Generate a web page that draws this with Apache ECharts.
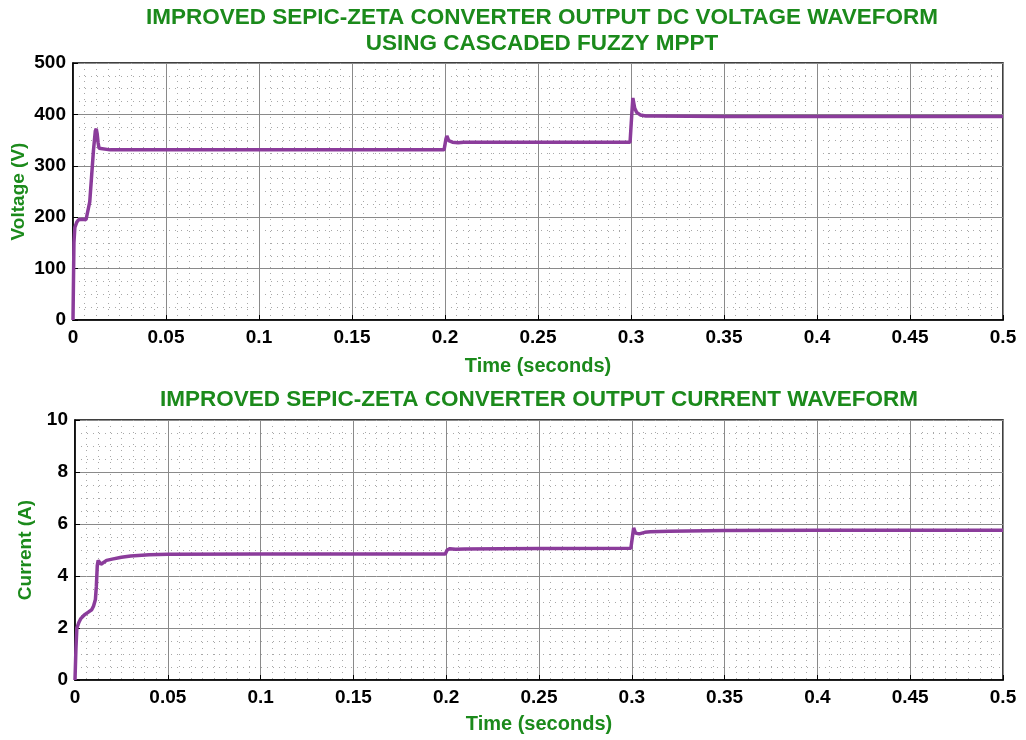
<!DOCTYPE html>
<html><head><meta charset="utf-8">
<script src="https://cdn.jsdelivr.net/npm/echarts@6/dist/echarts.min.js"></script>
<style>html,body{margin:0;padding:0;background:#fff}#c{width:1026px;height:740px}</style>
</head><body><div id="c"></div>
<script>
// Voltage waveform (time in s, voltage in V)
const vTime = [0, 0.0005, 0.001, 0.002, 0.003, 0.005, 0.007, 0.008, 0.009, 0.010, 0.011, 0.012, 0.0125, 0.013, 0.0135, 0.014, 0.015, 0.02, 0.05, 0.1, 0.15, 0.1995, 0.2, 0.2005, 0.201, 0.202, 0.204, 0.207, 0.21, 0.25, 0.2995, 0.3, 0.3005, 0.301, 0.302, 0.303, 0.305, 0.308, 0.312, 0.35, 0.4, 0.45, 0.5];
const vVals = [0, 150, 180, 190, 195, 196, 195, 198, 230, 280, 330, 368, 372, 362, 345, 334, 331, 331, 331, 331, 331, 331, 332, 352, 358, 349, 346, 345, 346, 346, 346, 346, 405, 432, 412, 404, 399, 397, 397, 396, 396, 396, 396];
// Current waveform (time in s, current in A)
const iTime = [0, 0.0005, 0.001, 0.002, 0.003, 0.005, 0.007, 0.009, 0.010, 0.011, 0.0115, 0.012, 0.0125, 0.013, 0.014, 0.015, 0.017, 0.02, 0.025, 0.03, 0.04, 0.05, 0.1, 0.15, 0.1995, 0.2, 0.2005, 0.201, 0.202, 0.205, 0.21, 0.25, 0.2995, 0.3, 0.3005, 0.301, 0.302, 0.304, 0.307, 0.31, 0.32, 0.35, 0.4, 0.45, 0.5];
const iVals = [0, 1.2, 2.0, 2.2, 2.35, 2.5, 2.6, 2.7, 2.85, 3.1, 3.6, 4.4, 4.6, 4.55, 4.45, 4.5, 4.6, 4.65, 4.72, 4.77, 4.82, 4.84, 4.85, 4.85, 4.85, 4.88, 5.0, 4.97, 5.05, 5.03, 5.04, 5.06, 5.07, 5.1, 5.6, 5.85, 5.65, 5.62, 5.68, 5.7, 5.72, 5.75, 5.76, 5.76, 5.76];
const xTicks = {min: 0, max: 0.5, interval: 0.05};

const green = '#1b8a1b';
const purple = '#8b3c9b';
const font = 'Liberation Sans';
const pair = (t, v) => t.map((x, k) => [x, v[k]]);

function xAxis(gi, gap) {
  return {
    type: 'value', gridIndex: gi, min: xTicks.min, max: xTicks.max, interval: xTicks.interval,
    name: 'Time (seconds)', nameLocation: 'middle', nameGap: gap,
    nameTextStyle: {color: green, fontWeight: 'bold', fontSize: 20, fontFamily: font},
    axisLine: {show: true, lineStyle: {color: '#000', width: 1.5}},
    axisTick: {show: true, inside: true, length: 5, lineStyle: {color: '#000'}},
    axisLabel: {color: '#000', fontWeight: 'bold', fontSize: 19, fontFamily: font, margin: 8,
      formatter: v => String(+v.toFixed(2))},
    splitLine: {show: true, lineStyle: {color: '#8a8a8a', width: 1}},
    minorTick: {show: false, splitNumber: 8},
    minorSplitLine: {show: true, lineStyle: {color: '#a8a8a8', type: [1, 5], width: 1}}
  };
}
function yAxis(gi, name, max, interval, gap) {
  return {
    type: 'value', gridIndex: gi, min: 0, max: max, interval: interval,
    name: name, nameLocation: 'middle', nameGap: gap, nameMoveOverlap: false,
    nameTextStyle: {color: green, fontWeight: 'bold', fontSize: 19, fontFamily: font},
    axisLine: {show: true, lineStyle: {color: '#000', width: 1.5}},
    axisTick: {show: true, inside: true, length: 5, lineStyle: {color: '#000'}},
    axisLabel: {color: '#000', fontWeight: 'bold', fontSize: 19, fontFamily: font, margin: 7},
    splitLine: {show: true, lineStyle: {color: '#8a8a8a', width: 1}},
    minorTick: {show: false, splitNumber: 4},
    minorSplitLine: {show: true, lineStyle: {color: '#a8a8a8', type: [1, 5], width: 1}}
  };
}

const chart = echarts.init(document.getElementById('c'), null, {renderer: 'canvas'});
chart.setOption({
  backgroundColor: '#fff',
  animation: false,
  title: [
    {text: 'IMPROVED SEPIC-ZETA CONVERTER OUTPUT DC VOLTAGE WAVEFORM\nUSING CASCADED FUZZY MPPT',
     left: 542, top: 5, textAlign: 'center', padding: 0,
     textStyle: {color: green, fontWeight: 'bold', fontSize: 22.5, lineHeight: 26, fontFamily: font}},
    {text: 'IMPROVED SEPIC-ZETA CONVERTER OUTPUT CURRENT WAVEFORM',
     left: 539, top: 387, textAlign: 'center', padding: 0,
     textStyle: {color: green, fontWeight: 'bold', fontSize: 22.5, lineHeight: 26, fontFamily: font}}
  ],
  grid: [
    {left: 73, right: 23, top: 63, height: 257, containLabel: false, outerBoundsMode: 'none',
     show: true, borderColor: '#000', borderWidth: 1.5, backgroundColor: '#fff'},
    {left: 75, right: 23, top: 420, height: 260, containLabel: false, outerBoundsMode: 'none',
     show: true, borderColor: '#000', borderWidth: 1.5, backgroundColor: '#fff'}
  ],
  xAxis: [xAxis(0, 36), xAxis(1, 34)],
  yAxis: [yAxis(0, 'Voltage (V)', 500, 100, 45), yAxis(1, 'Current (A)', 10, 2, 40)],
  series: [
    {type: 'line', xAxisIndex: 0, yAxisIndex: 0, data: pair(vTime, vVals), showSymbol: false,
     lineStyle: {color: purple, width: 3.5}, z: 5},
    {type: 'line', xAxisIndex: 1, yAxisIndex: 1, data: pair(iTime, iVals), showSymbol: false,
     lineStyle: {color: purple, width: 3.5}, z: 5}
  ]
});
</script></body></html>
